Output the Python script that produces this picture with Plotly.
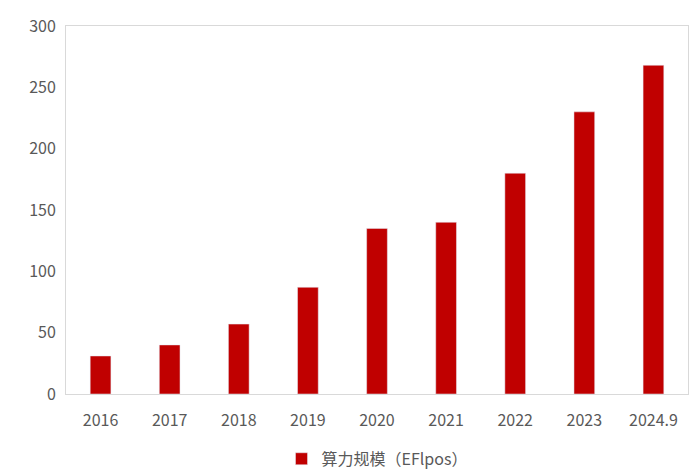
import plotly.graph_objs as go

years = ['2016', '2017', '2018', '2019', '2020', '2021', '2022', '2023', '2024.9']
compute = [31, 40, 57, 87, 135, 140, 180, 230, 268]

fig = go.Figure()
fig.add_trace(go.Bar(x=years, y=compute, name='算力规模（EFlpos）',
                     marker=dict(color='#C00000'), width=0.3))

fig.update_layout(
    width=700, height=473,
    paper_bgcolor='white', plot_bgcolor='white',
    margin=dict(l=58, r=20, t=18, b=87, autoexpand=False),
    font=dict(family='Noto Sans CJK SC, DejaVu Sans', size=16, color='#595959'),
    showlegend=True,
    legend=dict(orientation='h', x=0.5, xanchor='center', y=-0.13, yanchor='top',
                font=dict(size=16, color='#595959')),
    xaxis=dict(showline=True, linecolor='#D9D9D9', mirror=True,
               ticks='outside', ticklen=12, tickcolor='white'),
    yaxis=dict(range=[0, 300], dtick=50, showgrid=False, showline=True,
               linecolor='#D9D9D9', mirror=True, zeroline=False,
               ticks='outside', ticklen=6, tickcolor='white'),
)

fig.write_html("out.html")
